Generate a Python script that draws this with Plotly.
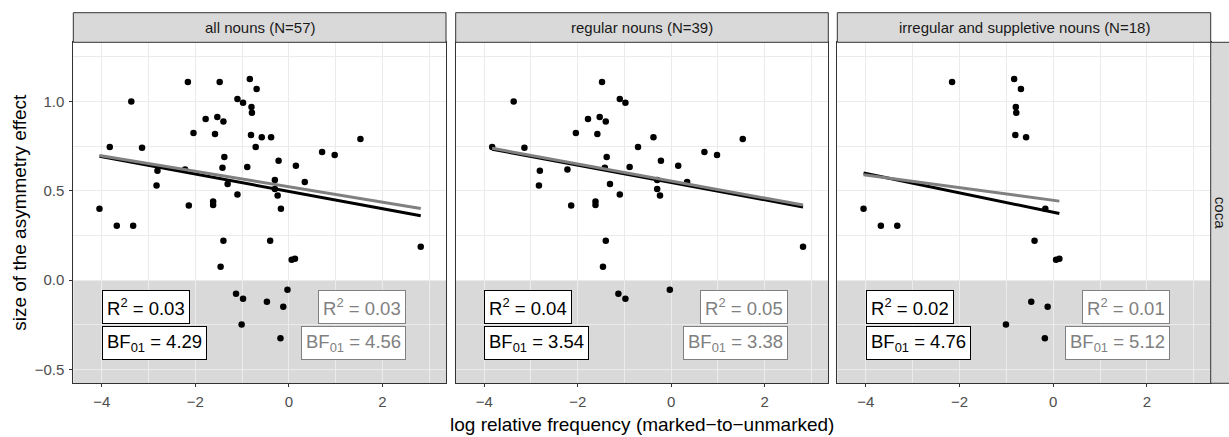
import plotly.graph_objects as go

# ---------------- data ----------------
panel_titles = ["all nouns (N=57)", "regular nouns (N=39)", "irregular and suppletive nouns (N=18)"]
row_label = "coca"

regular_x = [-1.48, -3.37, -1.10, -0.98, -1.78, -1.53, -1.40, -2.04, -1.58, -0.38,
             1.53, -3.83, -3.14, -0.71, 0.71, 0.98, -1.38, -0.22, 0.15, -0.89,
             -1.42, -2.81, -2.22, -0.30, 0.34, -1.31, -2.83, -1.10, -0.30, -0.24,
             -1.62, -1.62, -2.14, -1.40, 2.82, -1.46, -1.13, -0.98, -0.03]
regular_y = [1.11, 1.00, 1.015, 0.994, 0.903, 0.914, 0.888, 0.824, 0.819, 0.80,
             0.791, 0.746, 0.741, 0.746, 0.718, 0.701, 0.69, 0.668, 0.64, 0.634,
             0.629, 0.612, 0.619, 0.561, 0.55, 0.539, 0.53, 0.48, 0.511, 0.474,
             0.44, 0.42, 0.418, 0.22, 0.187, 0.075, -0.077, -0.105, -0.054]

irregular_x = [-2.16, -0.835, -0.69, -0.80, -0.79, -0.81, -0.58, -4.05, -0.17,
               -3.68, -3.33, -0.40, 0.06, 0.13, -0.47, -0.12, -1.01, -0.18]
irregular_y = [1.11, 1.126, 1.07, 0.97, 0.938, 0.813, 0.80, 0.40, 0.40,
               0.304, 0.304, 0.22, 0.114, 0.12, -0.121, -0.149, -0.248, -0.326]

all_x = regular_x + irregular_x
all_y = regular_y + irregular_y

# fitted lines (intercept, slope): black and grey fits
black_intercept = [0.497, 0.547, 0.380]
black_slope = [-0.0486, -0.0486, -0.0543]
grey_intercept = [0.523, 0.555, 0.447]
grey_slope = [-0.0432, -0.0478, -0.0354]

r2_black = ["0.03", "0.04", "0.02"]
bf_black = ["4.29", "3.54", "4.76"]
r2_grey = ["0.03", "0.05", "0.01"]
bf_grey = ["4.56", "3.38", "5.12"]

x_label = "log relative frequency (marked\u2212to\u2212unmarked)"
y_label = "size of the asymmetry effect"

# ---------------- layout constants ----------------
W, H = 1229, 437
FONT = "Liberation Sans, Arial, Helvetica, sans-serif"
panels_px = [(73.3, 446.0), (455.7, 828.3), (837.3, 1210.7)]
top_px, bot_px, strip_top_px = 42.3, 383.3, 12.7
xr = [-4.61, 3.36]
yr = [-0.578, 1.332]

def px_x(p):
    return p / W

def px_y(p):
    return (H - p) / H

xs_data = [all_x, regular_x, irregular_x]
ys_data = [all_y, regular_y, irregular_y]

fig = go.Figure()
shapes = []
annotations = []

for i in range(3):
    xa = "x" if i == 0 else f"x{i+1}"
    ya = "y" if i == 0 else f"y{i+1}"
    px_ = xs_data[i]
    py_ = ys_data[i]
    xmin, xmax = min(px_), max(px_)
    # points
    fig.add_trace(go.Scatter(x=px_, y=py_, mode="markers", xaxis=xa, yaxis=ya,
                             marker=dict(color="black", size=6.5), showlegend=False,
                             hoverinfo="skip"))
    # black fit
    fig.add_trace(go.Scatter(x=[xmin, xmax],
                             y=[black_intercept[i] + black_slope[i] * xmin,
                                black_intercept[i] + black_slope[i] * xmax],
                             mode="lines", xaxis=xa, yaxis=ya,
                             line=dict(color="black", width=3), showlegend=False))
    # grey fit
    fig.add_trace(go.Scatter(x=[xmin, xmax],
                             y=[grey_intercept[i] + grey_slope[i] * xmin,
                                grey_intercept[i] + grey_slope[i] * xmax],
                             mode="lines", xaxis=xa, yaxis=ya,
                             line=dict(color="#808080", width=3), showlegend=False))

    # shaded negative region
    shapes.append(dict(type="rect", xref=f"{xa} domain", yref=ya, x0=0, x1=1,
                       y0=yr[0], y1=0, fillcolor="#d9d9d9", line=dict(width=0),
                       layer="below"))
    # strip
    l, r = panels_px[i]
    shapes.append(dict(type="rect", xref="paper", yref="paper",
                       x0=px_x(l), x1=px_x(r), y0=px_y(top_px), y1=px_y(strip_top_px),
                       fillcolor="#d9d9d9", line=dict(color="#333333", width=1)))
    annotations.append(dict(xref="paper", yref="paper", x=px_x((l + r) / 2),
                            y=px_y((top_px + strip_top_px) / 2), text=panel_titles[i],
                            showarrow=False, xanchor="center", yanchor="middle",
                            font=dict(family=FONT, size=15, color="#1a1a1a")))
    # stat labels
    for txt, yy, col, xx, anc in [
        (f"R<sup>2</sup> = {r2_black[i]}", -0.15, "black", -4.0, "left"),
        (f"BF<sub>01</sub> = {bf_black[i]}", -0.35, "black", -4.0, "left"),
        (f"R<sup>2</sup> = {r2_grey[i]}", -0.15, "#808080", 2.5, "right"),
        (f"BF<sub>01</sub> = {bf_grey[i]}", -0.35, "#808080", 2.5, "right"),
    ]:
        annotations.append(dict(xref=xa, yref=ya, x=xx, y=yy, text=txt, showarrow=False,
                                xanchor=anc, yanchor="middle", bgcolor="white",
                                bordercolor=col, borderwidth=1, borderpad=4,
                                font=dict(family=FONT, size=18.5, color=col)))

# right strip
shapes.append(dict(type="rect", xref="paper", yref="paper",
                   x0=px_x(1210.7), x1=px_x(1245), y0=px_y(bot_px), y1=px_y(top_px),
                   fillcolor="#d9d9d9", line=dict(color="#333333", width=1)))
annotations.append(dict(xref="paper", yref="paper", x=px_x(1220), y=px_y((top_px + bot_px) / 2),
                        text=row_label, textangle=90, showarrow=False,
                        xanchor="center", yanchor="middle",
                        font=dict(family=FONT, size=15, color="#1a1a1a")))
# axis titles
annotations.append(dict(xref="paper", yref="paper", x=px_x(642), y=px_y(424),
                        text=x_label, showarrow=False, xanchor="center", yanchor="middle",
                        font=dict(family=FONT, size=19, color="black")))
annotations.append(dict(xref="paper", yref="paper", x=px_x(20), y=px_y((top_px + bot_px) / 2),
                        text=y_label, textangle=-90, showarrow=False,
                        xanchor="center", yanchor="middle",
                        font=dict(family=FONT, size=19, color="black")))

layout = dict(width=W, height=H, margin=dict(l=0, r=0, t=0, b=0),
              paper_bgcolor="white", plot_bgcolor="white",
              shapes=shapes, annotations=annotations, showlegend=False,
              font=dict(family=FONT))

for i in range(3):
    l, r = panels_px[i]
    xk = "xaxis" if i == 0 else f"xaxis{i+1}"
    yk = "yaxis" if i == 0 else f"yaxis{i+1}"
    ya = "y" if i == 0 else f"y{i+1}"
    xa = "x" if i == 0 else f"x{i+1}"
    layout[xk] = dict(domain=[px_x(l), px_x(r)], range=xr, anchor=ya,
                      tickmode="linear", tick0=0, dtick=2,
                      tickformat="d",
                      showgrid=True, gridcolor="#ebebeb", gridwidth=1.1,
                      minor=dict(tickmode="linear", tick0=1, dtick=2, showgrid=True,
                                 gridcolor="#ebebeb", gridwidth=0.6, ticks=""),
                      zeroline=False, showline=True, mirror=True,
                      linecolor="#333333", linewidth=1.1,
                      ticks="outside", ticklen=3, tickcolor="#333333", tickwidth=1,
                      ticklabelstandoff=2,
                      tickfont=dict(family=FONT, size=15, color="#4d4d4d"))
    layout[yk] = dict(domain=[px_y(bot_px), px_y(top_px)], range=yr, anchor=xa,
                      tickmode="linear", tick0=0, dtick=0.5, tickformat=".1f",
                      showgrid=True, gridcolor="#ebebeb", gridwidth=1.1,
                      minor=dict(tickmode="linear", tick0=0.25, dtick=0.5, showgrid=True,
                                 gridcolor="#ebebeb", gridwidth=0.6, ticks=""),
                      zeroline=False, showline=True, mirror=True,
                      linecolor="#333333", linewidth=1.1,
                      ticks="outside" if i == 0 else "", ticklen=3,
                      tickcolor="#333333", tickwidth=1,
                      showticklabels=(i == 0),
                      ticklabelstandoff=2,
                      tickfont=dict(family=FONT, size=15, color="#4d4d4d"))
    if i > 0:
        layout[yk]["matches"] = "y"

fig.update_layout(**layout)
fig.write_html("out.html")
